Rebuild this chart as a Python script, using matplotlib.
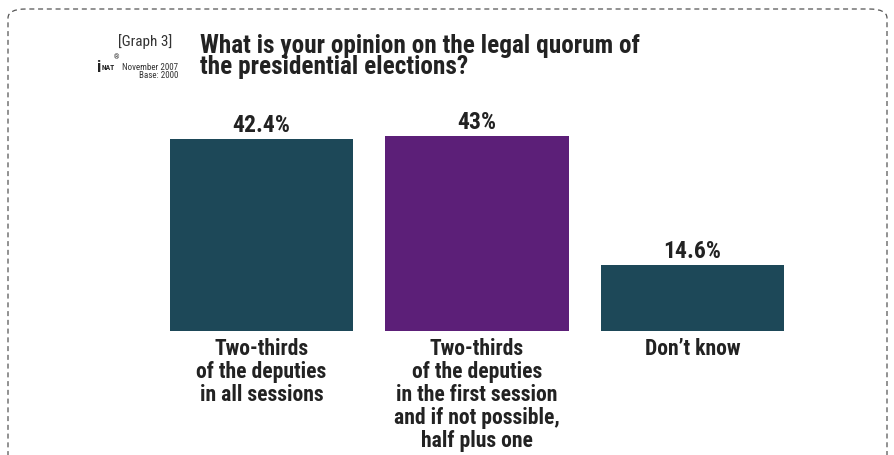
import matplotlib
matplotlib.use("Agg")
import matplotlib.pyplot as plt
from matplotlib.patches import FancyBboxPatch
from matplotlib import font_manager as fm

categories = ["Two-thirds\nof the deputies\nin all sessions",
              "Two-thirds\nof the deputies\nin the first session\nand if not possible,\nhalf plus one",
              "Don\u2019t know"]
values = [42.4, 43, 14.6]
value_labels = ["42.4%", "43%", "14.6%"]
colors = ["#1d4858", "#5c1f78", "#1d4858"]

names = {f.name for f in fm.fontManager.ttflist}
if "Roboto Condensed" in names:
    plt.rcParams['font.family'] = ['Roboto Condensed', 'DejaVu Sans']
else:
    plt.rcParams['font.family'] = ['DejaVu Sans']
    plt.rcParams['font.stretch'] = "condensed"

W, H = 895, 455
fig = plt.figure(figsize=(W/100, H/100), dpi=100)

x0, x1 = 153.75, 800.25
y0 = 331
ppu = (331 - 136) / 43.0
ytop = y0 - 50 * ppu
ax = fig.add_axes([x0/W, (H - y0)/H, (x1 - x0)/W, (y0 - ytop)/H])
ax.set_xlim(-0.5, 2.5)
ax.set_ylim(0, 50)
ax.axis("off")

TXT = "#222222"
xs = range(len(values))
ax.bar(xs, values, width=0.85, color=colors)
for x, v, lab in zip(xs, values, value_labels):
    ax.text(x, v + 1.55, lab, ha="center", va="baseline", fontsize=17,
            fontweight="bold", color=TXT)
for x, c in zip(xs, categories):
    ax.text(x, -1.5, c, ha="center", va="top", fontsize=15.6, fontweight="bold",
            color=TXT, linespacing=1.06)

fig.text(200/W, 1 - 34/H, "What is your opinion on the legal quorum of\nthe presidential elections?",
         ha="left", va="top", fontsize=18.2, fontweight="bold", color=TXT, linespacing=0.82)
fig.text(172/W, 1 - 42/H, "[Graph 3]", ha="right", va="center", fontsize=11, color="#333333")
fig.text(178/W, 1 - 68/H, "November 2007", ha="right", va="center", fontsize=6.5, color="#333333")
fig.text(178/W, 1 - 76/H, "Base: 2000", ha="right", va="center", fontsize=6.5, color="#333333")
fig.text(98/W, 1 - 68/H, "i", ha="center", va="center", fontsize=12, fontweight="bold", color=TXT)
fig.text(108/W, 1 - 68/H, "NAT", ha="center", va="center", fontsize=5.5, fontweight="bold", color=TXT)
fig.text(117/W, 1 - 58/H, "\u00ae", ha="center", va="center", fontsize=5, color=TXT)

frame = FancyBboxPatch((8/W, -0.05), (W - 16)/W, (H - 9)/H + 0.05,
                       boxstyle="round,pad=0,rounding_size=0.02",
                       transform=fig.transFigure, fill=False, edgecolor="#555555",
                       linewidth=0.9, linestyle=(0, (4, 3)))
fig.patches.append(frame)

fig.savefig("out.png", dpi=100)
